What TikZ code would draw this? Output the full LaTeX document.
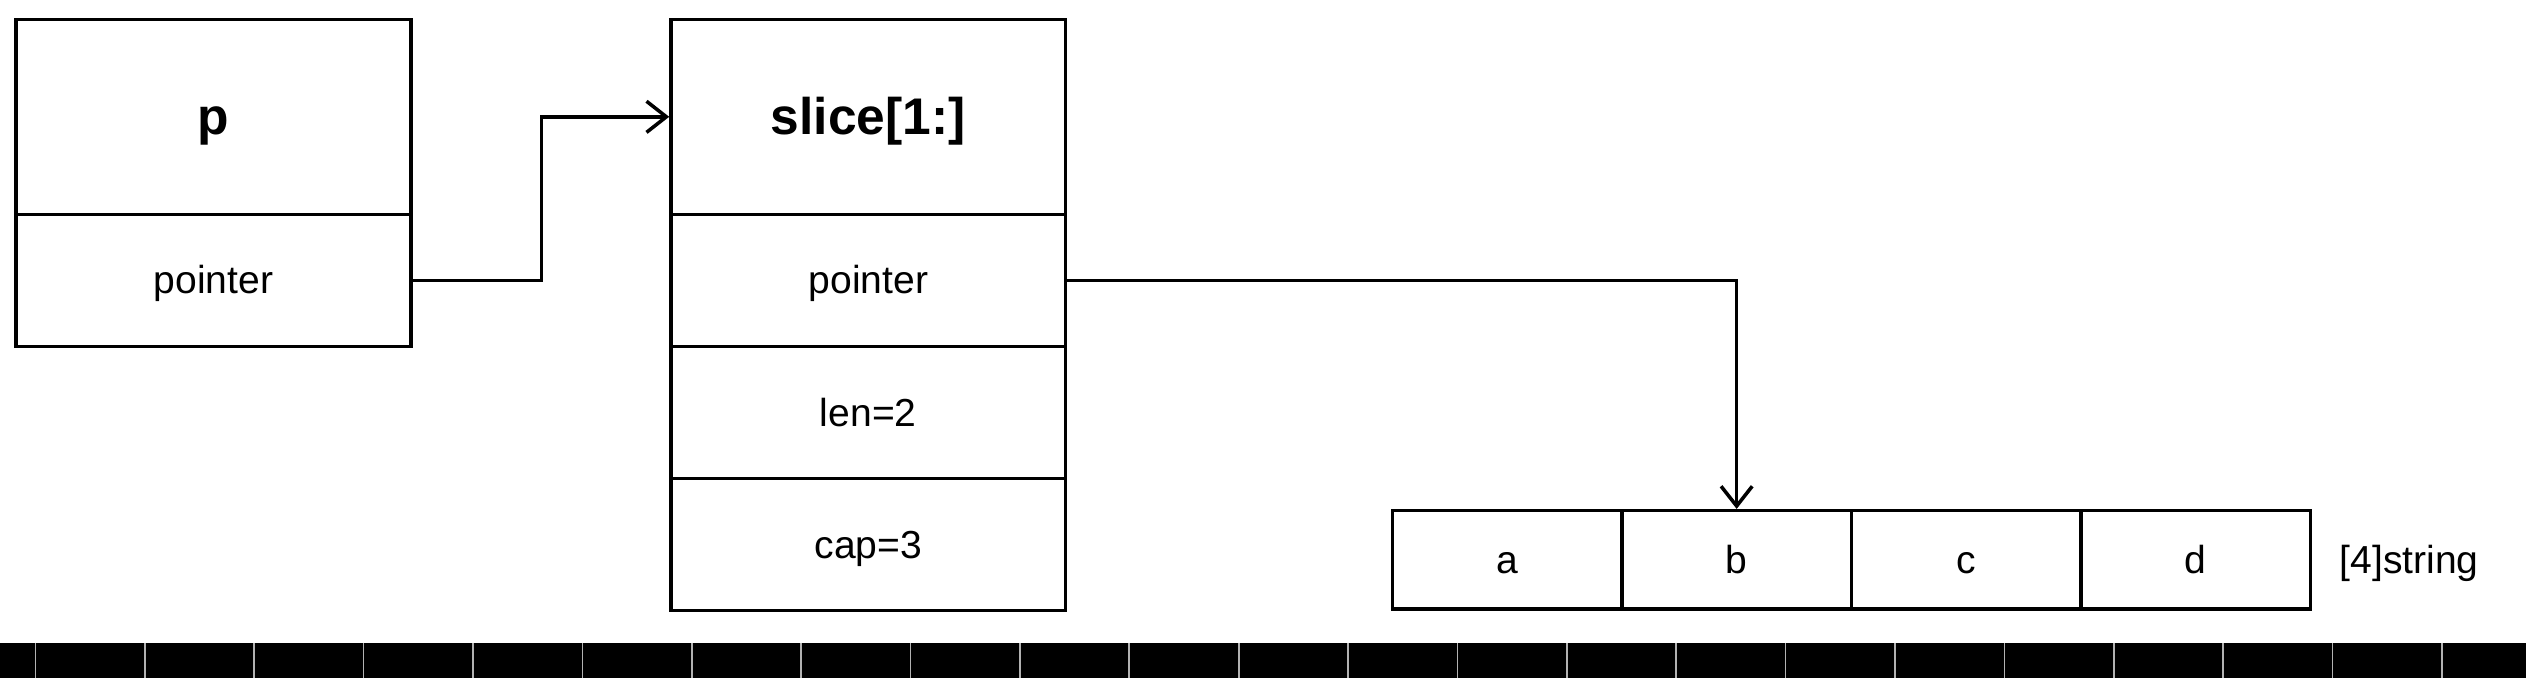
\documentclass[tikz,border=0pt]{standalone}
\usepackage{fontspec}
\setmainfont{Liberation Sans}
\usetikzlibrary{positioning,arrows.meta}

\begin{document}
\begin{tikzpicture}[on grid,line width=1.25pt,
    >={Straight Barb[length=7pt,width=11pt]},
    field/.style={draw,minimum width=4.9cm,minimum height=1.64cm,text height=12.5pt,text depth=2.9pt,
      font=\fontsize{13.8}{16}\selectfont},
    head/.style={field,minimum height=2.42cm,text height=16.5pt,text depth=3.9pt,
      font=\fontsize{18.2}{21}\bfseries\selectfont},
    elem/.style={field,minimum width=2.85cm,minimum height=1.22cm}]
    \useasboundingbox (0,0) rectangle (31.36,-8.42);
    % pointer variable p
    \node[head] (p) at (2.65,-1.45) {p};
    \node[field] (pptr) [below = 2.03cm of p] {pointer};
    % slice header
    \node[head] (slice) at (10.78,-1.45) {slice[1:]};
    \node[field] (sptr) [below = 2.03cm of slice] {pointer};
    \node[field] (slen) [below = 1.64cm of sptr] {len=2};
    \node[field] (scap) [below = 1.64cm of slen] {cap=3};
    % backing array
    \node[elem] (a) at (18.71,-6.95) {a};
    \node[elem] (b) [right = 2.85cm of a] {b};
    \node[elem] (c) [right = 2.85cm of b] {c};
    \node[elem] (d) [right = 2.85cm of c] {d};
    \node[anchor=west,text height=12.5pt,text depth=2.9pt,font=\fontsize{13.8}{16}\selectfont]
    (type) at ([xshift=0.2cm]d.east) {[4]string};
    \path[->]
    (pptr.east) edge [to path={-- ++(1.6,0) |- (\tikztotarget)}] (slice.west)
    (sptr.east) edge [to path={-| (\tikztotarget)}] (b.north)
    ;
    % player bar
    \fill (0,-7.98) rectangle (31.36,-8.42);
    \foreach \i in {0,...,22}
    \draw[gray!60,line width=0.6pt] (0.44+1.358*\i,-7.98) -- ++(0,-0.44);
\end{tikzpicture}
\end{document}
